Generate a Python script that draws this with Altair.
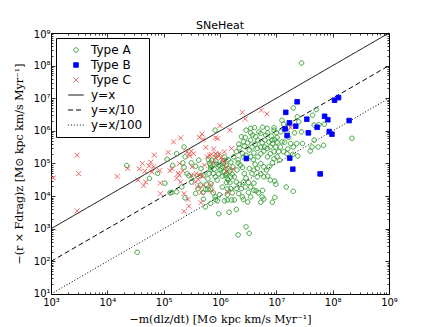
import altair as alt
import pandas as pd

# ---------------- data ----------------
type_a_x = [2.8e7, 2.2e8, 3.4e4, 2.1e6, 2.9e6, 3.3e6, 2.2e4, 7.8e4, 5.6e4, 1.05e5,
            1.4e5, 1.3e5, 2.1e5, 2.2e5, 2.3e5, 1.7e5, 2.8e5, 2.4e5, 4.1e5, 5.1e5,
            6.1e5, 7.9e5, 8.3e5, 9.5e5, 8.4e5, 6.8e5, 8.9e5, 6.9e5, 7.6e5, 8.2e5,
            5.5e5, 6.8e5, 9.0e5, 9.5e5, 9.8e5, 1.1e6, 1.3e6, 1.4e6, 1.5e6, 1.3e6,
            1.2e6, 1.05e6, 1.1e6, 1.3e6, 1.4e6, 1.5e6, 1.65e6, 1.8e6, 1.7e6, 2.0e6,
            2.1e6, 2.3e6, 2.5e6, 2.7e6, 2.9e6, 1.95e6, 2.2e6, 2.6e6, 3.2e6, 3.5e6,
            4.0e6, 2.8e6, 2.4e6, 1.95e6, 1.55e6, 1.35e6, 1.2e6, 1.35e6, 1.6e6, 1.8e6,
            1.95e6, 1.45e6, 2.6e6, 3.1e6, 3.5e6, 4.4e6, 4.8e6, 5.7e6, 5.6e6, 6.0e6,
            5.3e6, 8.5e6, 9.4e6, 9.4e6, 9.8e6, 7.8e6, 7.0e6, 6.7e6, 6.0e6, 5.3e6,
            4.2e6, 3.9e6, 3.5e6, 2.9e6, 2.6e6, 2.5e6, 2.2e6, 2.7e6, 3.1e6, 3.5e6,
            3.8e6, 4.1e6, 4.9e6, 5.7e6, 6.5e6, 7.0e6, 8.1e6, 9.1e6, 9.1e6, 8.6e6,
            7.8e6, 6.9e6, 6.0e6, 5.3e6, 4.7e6, 7.0e6, 7.8e6, 9.1e6, 1.03e7, 1.15e7,
            1.18e7, 1.26e7, 1.35e7, 1.55e7, 1.66e7, 2.0e7, 2.35e7, 2.5e7, 2.8e7, 2.0e7,
            2.3e7, 2.4e7, 2.9e7, 1.95e7, 1.55e7, 1.4e7, 1.26e7, 1.03e7, 9.8e6, 9.4e6,
            1.03e7, 8.4e6, 6.3e6, 5.6e6, 4.7e6, 4.2e6, 3.7e6, 3.3e6, 4.0e6, 4.6e6,
            5.3e6, 6.2e6, 7.4e6, 4.7e7, 4.0e7, 4.3e7, 5.1e7, 4.4e7, 4.7e7, 5.7e7,
            6.9e7, 5.5e7, 1.5e7, 2.0e7, 1.55e6, 1.35e6, 1.25e6, 1.1e6, 1.0e6, 9.5e5,
            1.15e6, 1.75e6, 1.95e6, 2.1e6, 1.55e6, 1.4e6, 1.2e6, 8.9e5, 7.2e5, 6.8e5,
            6.4e5, 5.1e5, 4.6e5, 3.7e5, 3.4e5, 3.1e5, 2.6e5, 3.7e5, 4.5e5, 5.5e5,
            6.8e5, 1.35e6, 1.65e6, 2.15e6, 2.5e6, 3.2e6, 4.0e6, 4.6e6, 5.3e6, 6.0e6,
            3.7e6, 3.3e6, 4.0e6, 4.6e6, 7.4e6, 8.5e6, 9.1e6, 1.1e7, 1.35e7, 1.6e7,
            1.8e7, 2.1e7, 1.6e7, 1.2e7, 1.0e7, 6.9e6, 5.3e6, 4.3e6, 3.5e6, 2.8e6,
            2.6e6, 2.15e6, 2.4e6, 2.9e6, 3.5e6, 2.3e5, 8.2e5, 1.15e5, 2.4e5, 1.45e5,
            3.1e5, 4.2e5, 1.7e5, 4.5e5, 5.7e5, 7.6e5, 8.3e5, 7.1e7, 6.3e5, 6.5e5,
            6.9e5, 8.7e5, 1.15e6, 5.0e5, 6.1e5]
type_a_y = [1.2e8, 5.9e5, 1.9e2, 6.5e2, 1.15e3, 7.2e2, 8.7e4, 5.0e4, 3.5e4, 2.5e4,
            1.3e4, 1.26e4, 1.9e4, 1.05e5, 7.6e4, 1.35e4, 4.2e4, 8.9e3, 1.7e4, 8.1e3,
            3.4e4, 6.7e4, 7.9e3, 4.8e4, 1.2e5, 6.7e4, 3.1e4, 2.4e4, 1.26e4, 9.5e3,
            4.7e3, 6.0e3, 7.2e3, 2.9e3, 1.1e4, 1.9e4, 2.6e4, 3.1e4, 2.6e4, 4.9e4,
            5.5e4, 7.0e4, 7.9e4, 8.7e4, 6.9e4, 5.9e4, 4.7e4, 3.9e4, 7.9e4, 6.3e4,
            1.05e5, 8.9e4, 7.6e4, 4.9e4, 3.6e4, 2.7e4, 2.3e4, 2.7e4, 2.6e4, 1.9e4,
            1.5e4, 1.9e4, 1.7e4, 1.7e4, 1.7e4, 1.66e4, 7.2e3, 7.6e3, 7.6e3, 7.6e3,
            3.9e3, 3.2e3, 7.9e3, 6.6e3, 9.5e3, 1.45e4, 1.26e4, 1.5e4, 9.5e3, 8.1e3,
            6.5e3, 6.5e3, 9.1e3, 2.9e4, 2.3e4, 3.1e4, 4.1e4, 6.3e4, 7.9e4, 1.0e5,
            9.5e4, 1.3e5, 1.6e5, 1.8e5, 1.6e5, 2.0e5, 3.0e5, 3.4e5, 4.3e5, 5.2e5,
            7.5e5, 1.26e6, 9.3e5, 1.3e6, 7.4e5, 8.7e5, 6.9e5, 1.05e6, 1.26e6, 4.1e5,
            3.2e5, 2.9e5, 2.4e5, 2.0e5, 1.6e5, 1.6e5, 2.0e5, 2.3e5, 1.6e5, 1.26e5,
            3.2e5, 2.1e6, 1.6e6, 9.3e5, 6.3e5, 5.1e6, 2.7e6, 1.9e6, 9.3e5, 3.2e5,
            4.1e5, 1.7e5, 4.1e5, 1.9e5, 2.0e5, 4.5e5, 4.6e5, 4.5e5, 3.2e5, 5.4e5,
            6.3e5, 5.2e5, 5.2e5, 4.3e5, 5.2e5, 3.9e5, 3.2e5, 2.6e5, 2.1e5, 2.9e5,
            3.2e5, 3.2e5, 4.6e5, 5.2e5, 2.4e5, 3.2e5, 4.5e6, 3.0e6, 1.5e6, 1.55e6,
            3.6e5, 3.2e5, 1.9e4, 1.4e4, 3.9e4, 3.5e4, 4.4e4, 4.1e4, 6.3e4, 8.9e4,
            1.0e5, 1.6e5, 2.3e5, 1.3e5, 1.1e5, 1.3e5, 1.6e5, 1.8e5, 1.26e5, 8.9e4,
            4.9e4, 4.4e4, 7.0e4, 8.3e4, 3.9e4, 2.7e4, 4.9e4, 1.2e4, 2.2e4, 1.6e4,
            1.6e4, 1.1e4, 1.26e4, 1.2e4, 9.5e3, 1.3e4, 2.5e4, 3.9e4, 4.9e4, 3.9e4,
            4.9e4, 7.0e4, 6.3e4, 7.0e4, 7.9e4, 1.05e5, 1.4e5, 2.3e5, 2.3e5, 2.8e5,
            4.1e5, 8.7e5, 1.3e6, 9.3e5, 8.7e5, 1.2e6, 8.3e5, 6.6e5, 8.7e5, 6.3e5,
            4.6e5, 3.9e5, 6.6e5, 1.05e6, 1.2e6, 3.2e5, 1.05e6, 1.35e5, 1.6e5, 8.7e4,
            1.05e5, 1.26e5, 2.0e5, 4.2e4, 2.3e4, 4.9e4, 3.9e4, 1.6e6, 1.3e5, 1.0e5,
            7.6e4, 9.5e4, 1.2e5, 1.3e4, 1.6e4]

type_b_x = [1.47e7, 2.34e7, 1.08e8, 1.27e8, 1.43e7, 1.71e7, 2.21e7, 3.47e7, 7.2e7, 8.2e7,
            5.3e7, 3.7e7, 8.7e7, 9.7e7, 1.96e8, 1.55e7, 1.73e7, 2.94e6, 1.96e7, 6.0e7]
type_b_y = [3.7e6, 7.8e6, 8.7e6, 1.05e7, 1.15e6, 1.76e6, 1.39e6, 2.28e6, 2.8e6, 2.2e6,
            1.29e6, 8.7e5, 9.5e5, 7.9e5, 2.07e6, 7.2e5, 1.46e5, 1.42e5, 6.7e4, 4.8e4]

type_c_x = [1.1e3, 2.9e3, 3.1e3, 2.9e3, 1.5e4, 2.3e4, 3.5e4, 3.7e4, 4.2e4, 4.6e4,
            4.4e4, 4.8e4, 5.5e4, 5.9e4, 6.8e4, 6.6e4, 8.5e4, 8.7e4, 8.7e4, 1.2e5,
            1.3e5, 1.5e5, 2.0e5, 1.9e5, 1.9e5, 1.7e5, 2.0e5, 2.2e5, 2.3e5, 2.3e5,
            2.6e5, 2.8e5, 3.1e5, 2.9e5, 3.4e5, 3.2e5, 3.1e5, 2.8e5, 2.7e5, 3.8e5,
            4.1e5, 4.3e5, 4.3e5, 5.0e5, 5.6e5, 4.6e5, 4.9e5, 5.1e5, 4.7e5, 5.3e5,
            5.9e5, 6.5e5, 7.1e5, 7.7e5, 8.3e5, 9.1e5, 7.7e5, 8.4e5, 9.0e5, 9.8e5,
            1.05e6, 1.2e6, 1.1e6, 1.2e6, 1.3e6, 1.3e6, 1.5e6, 1.6e6, 1.4e6, 1.7e6,
            2.5e6, 2.8e6, 5.4e6, 6.8e6, 6.8e5, 7.2e5, 3.7e5, 4.0e5, 1.8e5, 8.3e5,
            1.8e7, 1.4e5, 6.2e4, 1.0e6, 4.8e5]
type_c_y = [3.6e4, 1.8e5, 4.9e4, 3.5e3, 4.0e4, 7.0e4, 3.1e4, 6.9e4, 1.0e5, 5.8e4,
            2.1e4, 2.7e4, 8.5e4, 1.1e5, 1.8e5, 7.9e4, 6.1e4, 2.5e4, 1.2e4, 2.2e5,
            6.0e4, 4.6e5, 6.1e5, 1.0e5, 4.4e4, 3.5e4, 2.7e4, 6.0e4, 1.2e4, 3.4e3,
            2.3e5, 1.9e5, 2.4e5, 1.7e5, 2.0e5, 7.9e4, 4.4e4, 4.9e3, 7.9e3, 4.9e4,
            3.3e4, 4.5e4, 6.3e5, 5.4e5, 3.1e5, 6.3e3, 4.1e4, 2.1e4, 1.3e4, 8.9e4,
            1.6e5, 1.8e5, 1.9e5, 2.8e5, 6.1e5, 5.8e5, 1.05e5, 2.0e5, 1.7e5, 2.0e5,
            1.5e5, 2.3e5, 1.3e5, 1.1e5, 7.9e4, 5.7e4, 1.05e6, 2.9e5, 1.3e4, 6.7e4,
            3.7e6, 2.3e6, 4.3e6, 3.3e6, 2.2e4, 1.45e4, 2.7e4, 1.9e4, 5.0e4, 1.5e5,
            1.26e6, 7.0e4, 5.5e4, 1.45e6, 8.0e5]

series_names = ["Type A", "Type B", "Type C", "y=x", "y=x/10", "y=x/100"]
line_ratios = [1.0, 0.1, 0.01]
line_x_ends = [1e3, 1e9]

x_major = [1e3, 1e4, 1e5, 1e6, 1e7, 1e8, 1e9]
y_major = [1e1, 1e2, 1e3, 1e4, 1e5, 1e6, 1e7, 1e8, 1e9]

# ---------------- tables ----------------
pts = pd.concat([
    pd.DataFrame({"x": type_a_x, "y": type_a_y, "series": "Type A"}),
    pd.DataFrame({"x": type_b_x, "y": type_b_y, "series": "Type B"}),
    pd.DataFrame({"x": type_c_x, "y": type_c_y, "series": "Type C"}),
], ignore_index=True)

lines = pd.DataFrame([
    {"x": xv, "y": xv * r, "series": name}
    for name, r in zip(series_names[3:], line_ratios)
    for xv in line_x_ends
])

def minor_ticks(majors):
    out = []
    for m in majors[:-1]:
        out += [m * k for k in range(1, 10)]
    out.append(majors[-1])
    return out

x_ticks = minor_ticks(x_major)
y_ticks = minor_ticks(y_major)

is_major = "abs(log(datum.value)/LN10 - round(log(datum.value)/LN10)) < 0.001"
label_expr = ("(" + is_major + ") ? '10' + ['⁰','¹','²','³','⁴','⁵','⁶','⁷','⁸','⁹'][round(log(datum.value)/LN10)] : ''")
tick_size = {"condition": {"test": is_major, "value": -4}, "value": -2}

font = "DejaVu Sans"
serif = "DejaVu Serif"

def axis(orient, values, title=None, labels=True, pad=4, tpad=4, flush=False):
    kw = dict(orient=orient, values=values, grid=False, domainColor="black",
              domainWidth=1, tickColor="black", tickWidth=0.8, tickSize=tick_size,
              labels=labels)
    if labels:
        kw.update(labelExpr=label_expr, labelFont=font, labelFontSize=10,
                  labelColor="black", labelPadding=pad, labelOverlap=False,
                  labelFlush=flush)
        if flush:
            kw.update(labelFlushOffset=4)
    if title:
        kw.update(title=title, titleFont=serif, titleFontSize=11,
                  titleFontWeight="normal", titleColor="black", titlePadding=tpad)
    else:
        kw.update(title=None)
    return alt.Axis(**kw)

x_scale = alt.Scale(type="log", domain=[1e3, 1e9], nice=False)
y_scale = alt.Scale(type="log", domain=[1e1, 1e9], nice=False)

line_sym = "M-3.2,0L3.2,0"
shapes = ["circle", "square", "M-1,-1L1,1M-1,1L1,-1", line_sym, line_sym, line_sym]
strokes = ["#2a9a2a", "#0000ff", "#f24a4a", "black", "black", "black"]
fills = ["transparent", "#0000ff", "transparent", "transparent", "transparent", "transparent"]
dashes = [[1, 0], [1, 0], [1, 0], [1, 0], [5, 3], [1, 2]]
sizes = [20, 26, 22, 20, 20, 20]

legend = alt.Legend(title=None, orient="top-left", offset=5, strokeColor="black",
                    fillColor="white", padding=6, labelFont=font, labelFontSize=12,
                    labelColor="black", symbolStrokeWidth=1, rowPadding=3,
                    symbolSize=30, symbolOffset=8, labelOffset=9, cornerRadius=0)

stroke_enc = alt.Stroke("series:N", scale=alt.Scale(domain=series_names, range=strokes), legend=legend)
dash_enc = alt.StrokeDash("series:N", scale=alt.Scale(domain=series_names, range=dashes), legend=legend)

points = alt.Chart(pts).mark_point(strokeWidth=1, opacity=1).encode(
    x=alt.X("x:Q", scale=x_scale,
            axis=axis("bottom", x_ticks, "−m(dlz/dt) [M⊙ kpc km/s Myr⁻¹]", pad=7)),
    y=alt.Y("y:Q", scale=y_scale,
            axis=axis("left", y_ticks, "−(r × Fdrag)z [M⊙ kpc km/s Myr⁻¹]", pad=5, tpad=9, flush=True)),
    stroke=stroke_enc,
    strokeDash=dash_enc,
    fill=alt.Fill("series:N", scale=alt.Scale(domain=series_names, range=fills), legend=legend),
    shape=alt.Shape("series:N", scale=alt.Scale(domain=series_names, range=shapes), legend=legend),
    size=alt.Size("series:N", scale=alt.Scale(domain=series_names, range=sizes), legend=None),
)

line_layer = alt.Chart(lines).mark_line(strokeWidth=1).encode(
    x=alt.X("x:Q", scale=x_scale, axis=axis("top", x_ticks, labels=False)),
    y=alt.Y("y:Q", scale=y_scale, axis=axis("right", y_ticks, labels=False)),
    detail="series:N",
    stroke=stroke_enc,
    strokeDash=dash_enc,
)

chart = alt.layer(line_layer, points).resolve_axis(
    x="independent", y="independent"
).properties(
    width=338, height=261,
    padding={"left": 5, "top": 12, "right": 5, "bottom": 5},
    title=alt.Title("SNeHeat", font=font, fontSize=11, fontWeight="normal",
                    color="black", offset=-2),
).configure_view(stroke=None)

chart.save("out.html", embed_options={"renderer": "svg", "actions": False})
